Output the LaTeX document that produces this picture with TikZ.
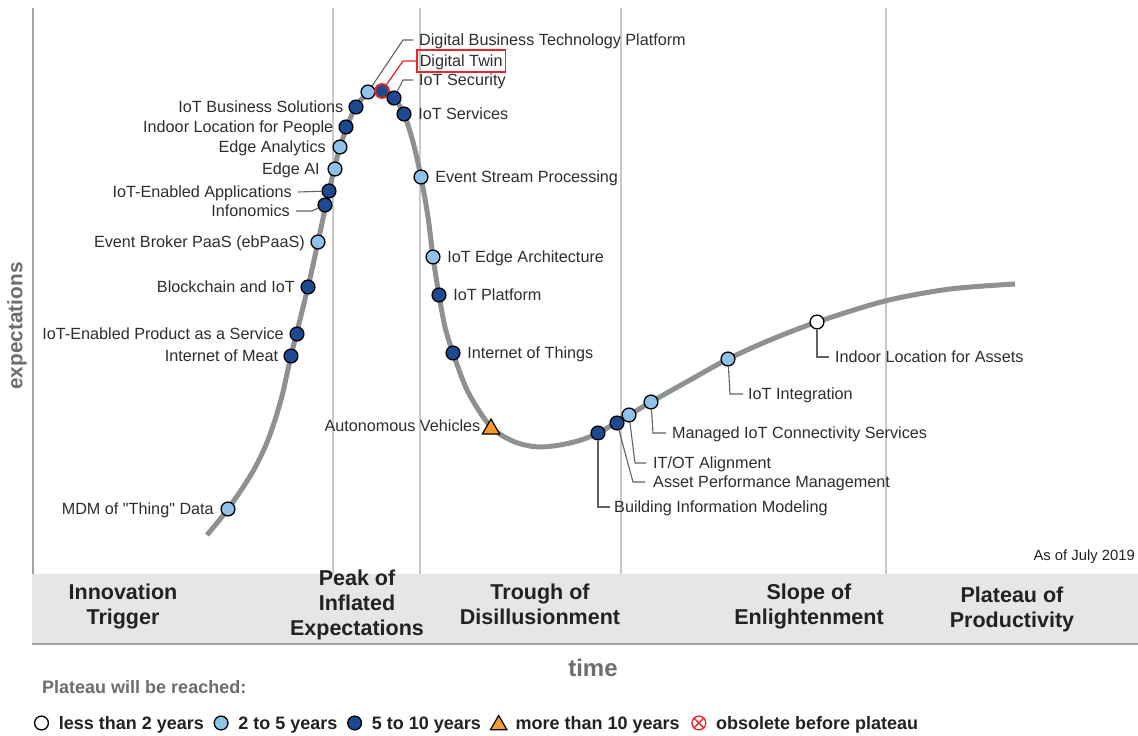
\documentclass[tikz,border=0pt]{standalone}
\usepackage{fontspec}
\setmainfont{Liberation Sans}[Ligatures=TeXOff]
\usetikzlibrary{positioning,shapes.geometric}
\usepackage{xcolor}
\definecolor{curvegray}{HTML}{8E9191}
\definecolor{gridgray}{HTML}{C9C9C9}
\definecolor{axisgray}{HTML}{A3A3A3}
\definecolor{bandgray}{HTML}{E6E6E6}
\definecolor{leadergray}{HTML}{5E6263}
\definecolor{labeltext}{HTML}{2E2E2E}
\definecolor{phasetext}{HTML}{222222}
\definecolor{softtext}{HTML}{6B6D6E}
\definecolor{darkdot}{HTML}{1B4A93}
\definecolor{lightdot}{HTML}{8DC3E9}
\definecolor{orangedot}{HTML}{F59B2C}
\definecolor{twinred}{HTML}{E5262B}

\begin{document}
\begin{tikzpicture}[x=1pt, y=-1pt,
	lbl/.style={font=\fontsize{16.2}{19}\selectfont, text=labeltext, inner sep=0pt, text height=11.6pt, text depth=0pt},
	dot/.style={circle, draw=black, line width=1.3pt, minimum size=13.8pt, inner sep=0pt},
	lessthan/.style={dot, fill=white},
	twofive/.style={dot, fill=lightdot},
	fiveten/.style={dot, fill=darkdot},
	morethan/.style={regular polygon, regular polygon sides=3, draw=black, line width=1.2pt, fill=orangedot, minimum size=20pt, inner sep=0pt},
	obsolete/.style={dot, draw=twinred, fill=white},
	leader/.style={draw=leadergray, line width=1.1pt},
	phase/.style={font=\fontsize{21.5}{25}\selectfont\bfseries, text=phasetext, align=center, inner sep=0pt},
	legend/.style={font=\fontsize{18}{20}\selectfont\bfseries, text=phasetext, inner sep=0pt, text height=12.8pt, text depth=0pt}]
	\useasboundingbox (0,0) rectangle (1138,736);
	\fill[white] (0,0) rectangle (1138,736);

	\fill[bandgray] (32,574) rectangle (1138,644);
	\draw[axisgray, line width=1.2pt] (32,644) -- (1138,644);
	\draw[axisgray, line width=1.5pt] (33,8) -- (33,574);
	\foreach \x in {333,420,621,886}
		\draw[gridgray, line width=1.5pt] (\x,8) -- (\x,574);

	\draw[curvegray, line width=5pt] plot[smooth, tension=0.5] coordinates {(207,535) (228,509) (252,473) (268,440) (281,400) (291,356) (308,287) (318,242) (329,191) (340,147) (354,110) (368,93) (381,91) (394,98) (404,114) (413,142) (421,177) (428,217) (433,257) (439,295) (445,327) (453,353) (468,392) (491,427) (515,442) (540,447) (570,443) (598,433) (651,402) (690,380) (728,359) (770,340) (817,322) (885,301) (950,289) (1015,284)};

	\node[twofive] (mdm) at (228,509) {};
	\node[fiveten] (meat) at (291,356) {};
	\node[fiveten] (product) at (297,334) {};
	\node[fiveten] (chain) at (308,287) {};
	\node[twofive] (broker) at (318,242) {};
	\node[fiveten] (info) at (325,205) {};
	\node[fiveten] (apps) at (329,191) {};
	\node[twofive] (edgeai) at (335,169) {};
	\node[twofive] (analytics) at (340,147) {};
	\node[fiveten] (people) at (346,127) {};
	\node[fiveten] (business) at (356,107) {};
	\node[twofive] (platform) at (368,92) {};
	\node[dot, draw=twinred, line width=2pt, fill=darkdot] (twin) at (382,91) {};
	\node[fiveten] (security) at (394,98) {};
	\node[fiveten] (services) at (404,114) {};
	\node[twofive] (stream) at (421,177) {};
	\node[twofive] (edgearch) at (433,257) {};
	\node[fiveten] (iotplat) at (439,295) {};
	\node[fiveten] (iot) at (453,353) {};
	\node[morethan] (vehicles) at (491,429) {};
	\node[fiveten] (bim) at (598,433) {};
	\node[fiveten] (apm) at (617,423) {};
	\node[twofive] (itot) at (629,415) {};
	\node[twofive] (managed) at (651,402) {};
	\node[twofive] (integration) at (728,359) {};
	\node[lessthan] (assets) at (817,322) {};

	\node[lbl, left=6.5pt of mdm] (mdmL) {MDM of "Thing" Data};
	\node[lbl, left=5pt of meat] (meatL) {Internet of Meat};
	\node[lbl, left=5.5pt of product] (productL) {IoT-Enabled Product as a Service};
	\node[lbl, left=5.5pt of chain] (chainL) {Blockchain and IoT};
	\node[lbl, left=5.5pt of broker] (brokerL) {Event Broker PaaS (ebPaaS)};
	\node[lbl, anchor=east] (infoL) at (290,211) {Infonomics};
	\node[lbl, anchor=east] (appsL) at (292,192) {IoT-Enabled Applications};
	\node[lbl, left=7.5pt of edgeai] (edgeaiL) {Edge AI};
	\node[lbl, left=6.5pt of analytics] (analyticsL) {Edge Analytics};
	\node[lbl, left=5pt of people] (peopleL) {Indoor Location for People};
	\node[lbl, left=5pt of business] (businessL) {IoT Business Solutions};
	\node[lbl, anchor=west] (platformL) at (419,40) {Digital Business Technology Platform};
	\node[lbl, anchor=west, draw=twinred, line width=1.5pt, inner xsep=3pt, inner ysep=5pt] (twinL) at (416,61) {Digital Twin};
	\node[lbl, anchor=west] (securityL) at (419,80) {IoT Security};
	\node[lbl, right=6.5pt of services] (servicesL) {IoT Services};
	\node[lbl, right=6.5pt of stream] (streamL) {Event Stream Processing};
	\node[lbl, right=6.5pt of edgearch] (edgearchL) {IoT Edge Architecture};
	\node[lbl, right=6.5pt of iotplat] (iotplatL) {IoT Platform};
	\node[lbl, right=6.5pt of iot] (iotL) {Internet of Things};
	\node[lbl, left=4pt of vehicles, yshift=3pt] (vehiclesL) {Autonomous Vehicles};
	\node[lbl, anchor=west] (bimL) at (614,507) {Building Information Modeling};
	\node[lbl, anchor=west] (apmL) at (653,482) {Asset Performance Management};
	\node[lbl, anchor=west] (itotL) at (653,463) {IT/OT Alignment};
	\node[lbl, anchor=west] (managedL) at (672,433) {Managed IoT Connectivity Services};
	\node[lbl, anchor=west] (integrationL) at (748,394) {IoT Integration};
	\node[lbl, anchor=west] (assetsL) at (835,357) {Indoor Location for Assets};

	\draw[leader] ([xshift=6pt]infoL.east) -- ++(16,0) -- (info);
	\draw[leader] ([xshift=6pt]appsL.east) -- (apps);
	\draw[leader] ([xshift=-6pt]platformL.west) -- ++(-10,0) -- (platform);
	\draw[twinred, line width=1.3pt] (twinL.west) -- ++(-13,0) -- (twin);
	\draw[leader] ([xshift=-6pt]securityL.west) -- ++(-10,0) -- (security);
	\draw[leader] (bim) -- (bim |- bimL) -- ([xshift=-4pt]bimL.west);
	\draw[leader] (apm) -- ([xshift=-20pt]apmL.west) -- ([xshift=-8pt]apmL.west);
	\draw[leader] (itot) -- ([xshift=-18pt]itotL.west) -- ([xshift=-7pt]itotL.west);
	\draw[leader] (managed) -- ([xshift=-19pt]managedL.west) -- ([xshift=-6pt]managedL.west);
	\draw[leader] (integration) -- ([xshift=-18pt]integrationL.west) -- ([xshift=-5pt]integrationL.west);
	\draw[leader] (assets) -- ([xshift=-18pt]assetsL.west) -- ([xshift=-6pt]assetsL.west);

	\node[font=\fontsize{14.8}{17}\selectfont, text=phasetext, anchor=east, inner sep=0pt] (asof) at (1135,557) {As of July 2019};
	\node[rotate=90, font=\fontsize{20.8}{24}\selectfont\bfseries, text=softtext] (expect) at (17,326) {expectations};

	\node[phase] (trigger) at (123,606) {Innovation\\Trigger};
	\node[phase] (peak) at (357,605) {Peak of\\Inflated\\Expectations};
	\node[phase] (trough) at (540,604) {Trough of\\Disillusionment};
	\node[phase] (slope) at (809,606) {Slope of\\Enlightenment};
	\node[phase] (plateau) at (1012,609) {Plateau of\\Productivity};
	\node[font=\fontsize{24}{28}\selectfont\bfseries, text=softtext] (time) at (593,668) {time};

	\node[legend, text=softtext, anchor=west] (reached) at (42,687) {Plateau will be reached:};
	\node[lessthan] (lgless) at (41.5,723) {};
	\node[legend, right=9.5pt of lgless] (lglessT) {less than 2 years};
	\node[twofive, right=9.5pt of lglessT] (lgtwo) {};
	\node[legend, right=9.5pt of lgtwo] (lgtwoT) {2 to 5 years};
	\node[fiveten, right=9.5pt of lgtwoT] (lgfive) {};
	\node[legend, right=9.5pt of lgfive] (lgfiveT) {5 to 10 years};
	\node[morethan, minimum size=19pt] (lgmore) at ([xshift=17.5pt, yshift=-2pt]lgfiveT.east) {};
	\node[legend, right=10.5pt of lgmore, yshift=2pt] (lgmoreT) {more than 10 years};
	\node[obsolete, right=11.5pt of lgmoreT] (lgobs) {};
	\draw[twinred, line width=1.3pt] (lgobs.north west) -- (lgobs.south east) (lgobs.north east) -- (lgobs.south west);
	\node[legend, right=9.5pt of lgobs] (lgobsT) {obsolete before plateau};
\end{tikzpicture}
\end{document}
